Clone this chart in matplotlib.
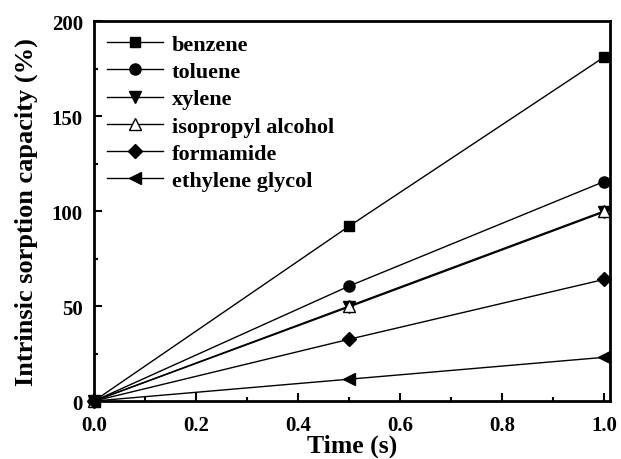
import numpy as np
import matplotlib
matplotlib.use("Agg")
import matplotlib.pyplot as plt
from matplotlib.ticker import MultipleLocator

# sorption capacity (%) vs time (s)
t = [0.0, 0.5, 1.0]
benzene = [0, 92, 181]
toluene = [0, 60.5, 115.5]
xylene = [0, 49.5, 99.5]
isopropyl = [0, 50, 100]
formamide = [0, 32.5, 64]
glycol = [0, 11.5, 23]

plt.rcParams['font.family'] = ['Liberation Serif', 'DejaVu Serif']
plt.rcParams['font.weight'] = 'bold'

fig = plt.figure(figsize=(6.21, 4.60), dpi=100)
ax = fig.add_axes([0.1514, 0.126, 0.831, 0.826])

kw = dict(color='k', lw=1.0, ms=8, clip_on=False)
ax.plot(t, benzene, marker='s', label='benzene', **{**kw, 'ms': 7})
ax.plot(t, toluene, marker='o', label='toluene', **kw)
ax.plot(t, xylene, marker='v', label='xylene', **kw)
ax.plot(t, isopropyl, marker='^', mfc='white', mec='k', label='isopropyl alcohol', **kw)
ax.plot(t, formamide, marker='D', label='formamide', **{**kw, 'ms': 7})
ax.plot(t, glycol, marker='<', label='ethylene glycol', **kw)

ax.set_xlim(0, 1.012)
ax.set_ylim(0, 200)
ax.xaxis.set_major_locator(MultipleLocator(0.2))
ax.xaxis.set_minor_locator(MultipleLocator(0.1))
ax.yaxis.set_major_locator(MultipleLocator(50))
ax.yaxis.set_minor_locator(MultipleLocator(25))
ax.tick_params(which='both', direction='in', top=False, right=False, width=1.5, labelsize=15)
ax.tick_params(which='major', length=6)
ax.tick_params(which='minor', length=3)
ax.tick_params(axis='x', pad=10)
ax.tick_params(axis='y', pad=8)
ax.set_xticks([0, 0.2, 0.4, 0.6, 0.8, 1.0])
ax.set_xticklabels(['0.0', '0.2', '0.4', '0.6', '0.8', '1.0'])
for s in ax.spines.values():
    s.set_linewidth(2)

ax.set_xlabel('Time (s)', fontsize=18.5, fontweight='bold', labelpad=-1)
ax.set_ylabel('Intrinsic sorption capacity (%)', fontsize=19, fontweight='bold', labelpad=10)

ax.legend(loc='upper left', frameon=False, fontsize=16, handlelength=2.5,
          labelspacing=0.30, borderaxespad=0.2, handletextpad=0.4)

fig.savefig('out.png', dpi=100)
